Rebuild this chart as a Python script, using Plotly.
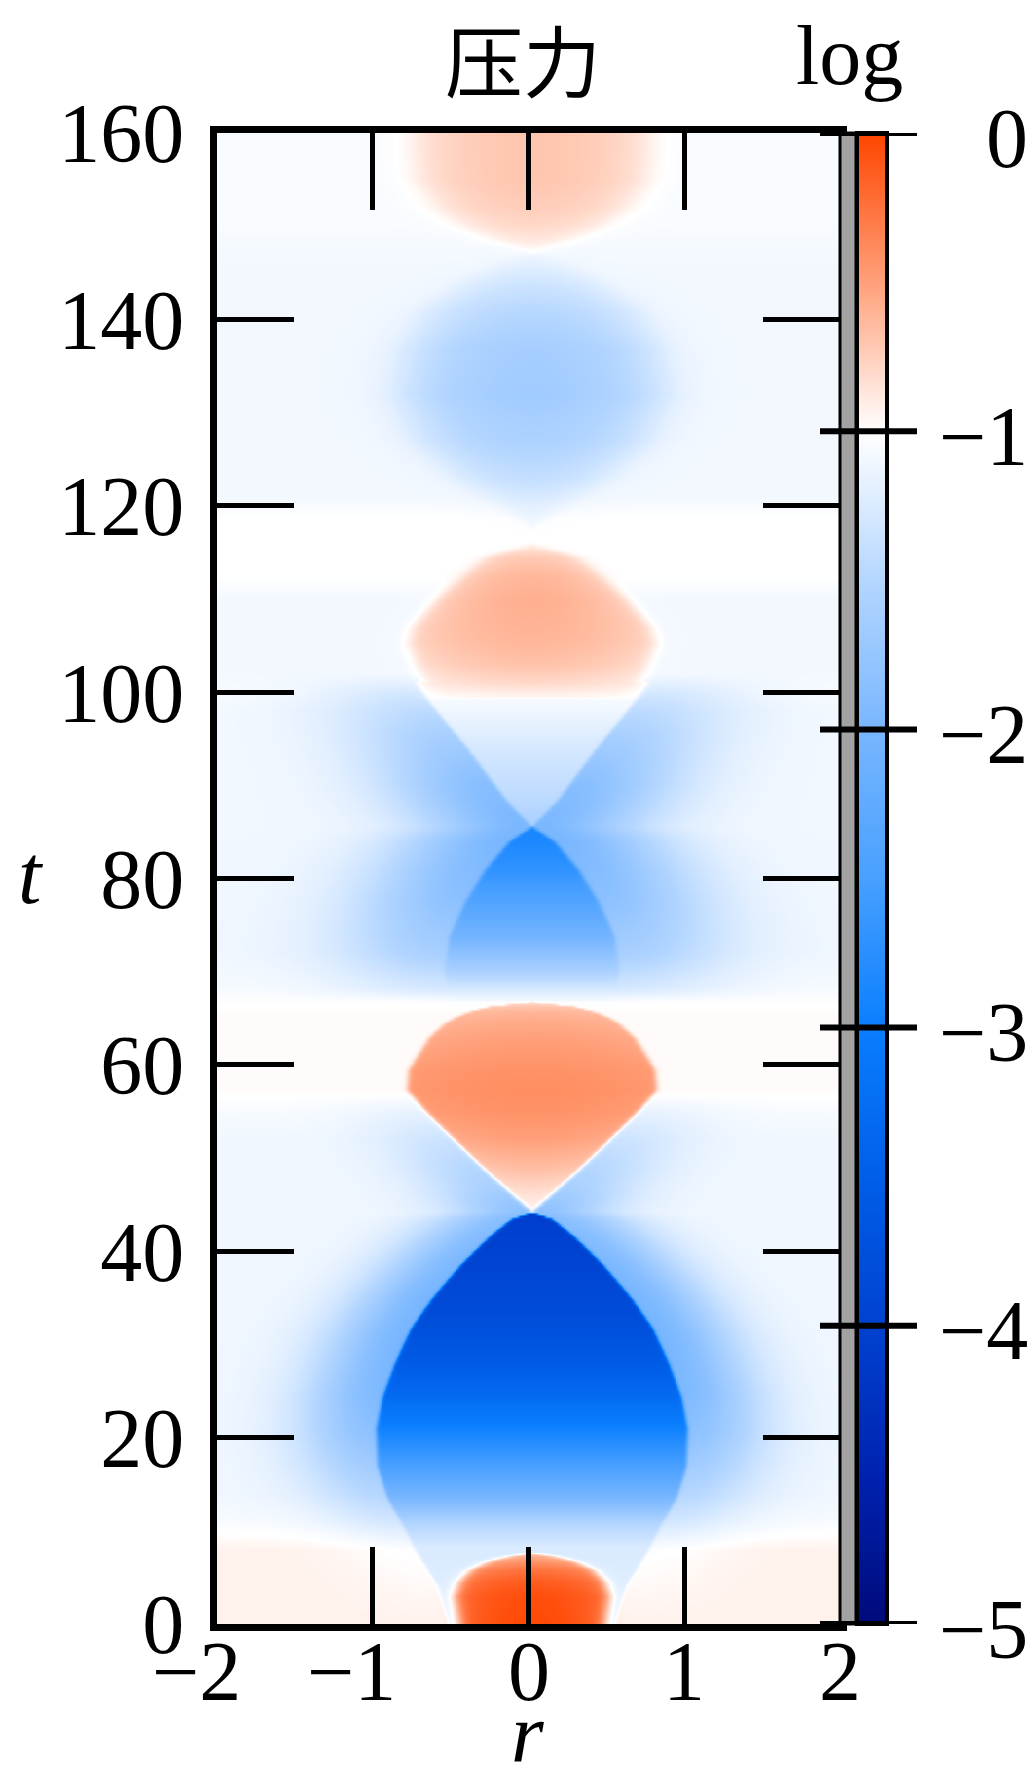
import numpy as np
import plotly.graph_objects as go

# ---------------- axis ticks ----------------
r_ticks = [-2, -1, 0, 1, 2]
r_ticktext = ["\u22122\u2007", "\u22121\u2007", "0", "1", "2"]
t_ticks = [0, 20, 40, 60, 80, 100, 120, 140, 160]
t_ticktext = [str(v) for v in t_ticks]
cbar_ticks = [0, -1, -2, -3, -4, -5]
cbar_ticktext = ["0", "\u22121", "\u22122", "\u22123", "\u22124", "\u22125"]

# ---------------- log-pressure field description ----------------
# far-field level along t
bg_t = [0, 8, 11, 14, 52, 55, 57.5, 65.5, 68.5, 72, 98, 100, 102, 110, 112.5, 118.5, 121, 146, 150, 160]
bg_v = [-0.93, -0.93, -1.05, -1.1, -1.1, -1.05, -0.98, -0.98, -1.06, -1.1,
        -1.08, -1.04, -1.08, -1.08, -1.0, -1.0, -1.08, -1.08, -1.05, -1.05]

# first rarefaction lens (t ~ 0..44)
lens1_t = [0, 4, 8.3, 10.7, 13.6, 17, 21, 24.4, 28, 31.6, 35, 38.7, 41.5, 43.5, 44.2]
lens1_w = [0.53, 0.6, 0.76, 0.83, 0.93, 0.99, 1.0, 0.96, 0.88, 0.78, 0.64, 0.45, 0.28, 0.13, 0.0]
lens1_v = [-1.2, -1.22, -1.25, -1.5, -2.0, -2.5, -2.95, -3.3, -3.55, -3.75, -3.87, -3.96, -4.02, -4.05, -4.05]
lens1_halo_t = [0, 8, 12, 16, 20, 25, 30, 36, 40, 44.2]
lens1_halo = [0.0, -0.08, -0.3, -0.5, -0.7, -0.85, -0.9, -0.9, -0.85, -0.75]

# initial compression at the origin
blob0_t = [0, 3, 4.5, 5.8, 6.8, 7.4, 7.7]
blob0_w = [0.47, 0.5, 0.47, 0.4, 0.28, 0.12, 0.0]
blob0_v = [-0.02, -0.05, -0.12, -0.25, -0.45, -0.6, -0.7]

# second compression (t ~ 44..67)
blob2_t = [44.2, 46, 49, 52, 55, 57.4, 59.5, 63, 64.5, 65.6, 66.3, 66.8]
blob2_w = [0.0, 0.12, 0.32, 0.5, 0.68, 0.8, 0.79, 0.66, 0.56, 0.43, 0.27, 0.0]
blob2_v = [-0.95, -0.85, -0.65, -0.5, -0.42, -0.4, -0.42, -0.5, -0.55, -0.6, -0.68, -0.85]
blob2_halo_t = [44.2, 47, 51, 55, 57]
blob2_halo = [-0.75, -0.5, -0.3, -0.1, 0.0]

# second rarefaction lens (t ~ 67..86)
lens2_t = [66.8, 68, 70.2, 73.8, 77.4, 81, 84, 85.6]
lens2_w = [0.5, 0.54, 0.56, 0.53, 0.43, 0.3, 0.15, 0.0]
lens2_v = [-1.05, -1.25, -1.6, -2.05, -2.4, -2.7, -2.85, -2.9]
lens2_halo_t = [66.8, 68, 72, 78, 84, 85.6]
lens2_halo = [0.0, -0.2, -0.5, -0.75, -0.9, -0.9]

# light cone opening above the second lens
cone_t = [85.6, 88.5, 93.9, 99.4, 101]
cone_w = [0.0, 0.17, 0.41, 0.68, 0.74]
cone_v = [-1.6, -1.45, -1.28, -1.05, -1.0]
cone_halo_t = [85.6, 90, 95, 100, 102]
cone_halo = [-0.9, -0.8, -0.55, -0.25, 0.0]

# third compression (t ~ 100..116)
blob3_t = [99.5, 101, 103, 105.3, 107, 110, 112.5, 114.6, 116]
blob3_w = [0.64, 0.7, 0.75, 0.8, 0.77, 0.62, 0.45, 0.3, 0.0]
blob3_v = [-0.95, -0.8, -0.68, -0.62, -0.6, -0.58, -0.62, -0.72, -0.95]

# third, weak rarefaction (t ~ 118..148)
blob4_t = [117.5, 120, 123, 127, 132, 137, 141, 144, 146.5, 147.5]
blob4_w = [0.0, 0.3, 0.6, 0.85, 0.97, 0.92, 0.78, 0.55, 0.25, 0.0]
blob4_v = [-1.1, -1.2, -1.4, -1.56, -1.66, -1.62, -1.48, -1.32, -1.15, -1.08]

# fourth compression (t ~ 147..160)
blob5_t = [147, 148.5, 150, 152, 155, 158, 160]
blob5_w = [0.0, 0.3, 0.5, 0.66, 0.78, 0.8, 0.8]
blob5_v = [-1.0, -0.88, -0.8, -0.74, -0.7, -0.7, -0.7]

features = [
    dict(t=lens1_t, w=lens1_w, v=lens1_v, halo_t=lens1_halo_t, halo=lens1_halo, spread=0.5, edge=0.012, radial=0.0),
    dict(t=blob2_t, w=blob2_w, v=blob2_v, halo_t=blob2_halo_t, halo=blob2_halo, spread=0.5, edge=0.02, radial=0.1),
    dict(t=lens2_t, w=lens2_w, v=lens2_v, halo_t=lens2_halo_t, halo=lens2_halo, spread=0.7, edge=0.015, radial=0.0),
    dict(t=cone_t, w=cone_w, v=cone_v, halo_t=cone_halo_t, halo=cone_halo, spread=0.7, edge=0.015, radial=0.0),
    dict(t=blob3_t, w=blob3_w, v=blob3_v, halo_t=None, halo=None, spread=0.5, edge=0.06, radial=0.35),
    dict(t=blob4_t, w=blob4_w, v=blob4_v, halo_t=None, halo=None, spread=0.5, edge=0.2, radial=0.7),
    dict(t=blob5_t, w=blob5_w, v=blob5_v, halo_t=None, halo=None, spread=0.5, edge=0.14, radial=0.45),
    dict(t=blob0_t, w=blob0_w, v=blob0_v, halo_t=None, halo=None, spread=0.5, edge=0.05, radial=0.2),
]

r = np.linspace(-2, 2, 321)
t = np.linspace(0, 160, 641)
dist = np.abs(r[None, :] - 0.02)
bg = np.interp(t, bg_t, bg_v)[:, None]
z = np.repeat(bg, r.size, axis=1)

for f in features:
    tk = np.asarray(f["t"], dtype=float)
    rows = ((t >= tk[0]) & (t <= tk[-1]))[:, None]
    w = np.interp(t, tk, f["w"])[:, None]
    vc = np.interp(t, tk, f["v"])[:, None]
    if f["halo"] is not None:
        ht = np.asarray(f["halo_t"], dtype=float)
        amp = np.interp(t, ht, f["halo"])
        amp = np.where((t >= ht[0]) & (t < ht[-1]), amp, 0.0)[:, None]
        gap = np.clip(dist - w, 0, None)
        z = z + amp * np.exp(-(gap / f["spread"]) ** 2)
    frac = np.clip(dist / np.maximum(w, 1e-6), 0, 1)
    inner = bg + (vc - bg) * (1 - f["radial"] * frac ** 2)
    m = 0.5 * (1 - np.tanh((dist - w) / f["edge"]))
    m = np.where(rows, m, 0.0)
    z = z * (1 - m) + inner * m

z = np.round(np.clip(z, -5, 0), 3)

# ---------------- colour map ----------------
cscale = [
    [0.0, "#000a7a"], [0.1, "#0022b0"], [0.2, "#0042d0"], [0.3, "#005ee8"],
    [0.4, "#0a7eff"], [0.5, "#48a0ff"], [0.6, "#78b6ff"], [0.7, "#b4d6ff"],
    [0.8, "#ffffff"], [0.9, "#ffa07a"], [1.0, "#ff4500"],
]
cb_levels = np.linspace(-5, 0, 201)

# ---------------- page geometry (pixels) ----------------
W, H = 1034, 1782
L, R, T, B = 217, 146, 133, 158
PW, PH = W - L - R, H - T - B


def fx(px):
    return (px - L) / PW


def fy(py):
    return (H - B - py) / PH


serif = "Liberation Serif, Times New Roman, serif"
tickfont = dict(family=serif, size=84, color="black")

fig = go.Figure()
fig.add_trace(go.Heatmap(
    x=r, y=t, z=z, colorscale=cscale, zmin=-5, zmax=0,
    showscale=False, zsmooth="best", hoverinfo="skip",
    xaxis="x", yaxis="y",
))
fig.add_trace(go.Heatmap(
    x=[0, 1], y=cb_levels, z=[[v, v] for v in cb_levels],
    colorscale=cscale, zmin=-5, zmax=0, showscale=False,
    zsmooth="best", hoverinfo="skip", xaxis="x2", yaxis="y2",
))

axis_common = dict(
    ticks="inside", ticklen=77, tickwidth=5, tickcolor="black",
    showline=True, linewidth=7, linecolor="black", mirror="allticks",
    showgrid=False, zeroline=False, tickfont=tickfont,
)

shapes = [
    # grey strip between frame and colour bar
    dict(type="rect", xref="paper", yref="paper", x0=fx(840), x1=fx(856), y0=0, y1=1,
         fillcolor="#a2a2a2", line=dict(color="black", width=3), layer="above"),
    # colour bar frame
    dict(type="rect", xref="x2 domain", yref="y2 domain", x0=0, x1=1, y0=0, y1=1,
         line=dict(color="black", width=4), layer="above"),
]
for v in cbar_ticks:
    shapes.append(dict(type="line", xref="paper", yref="y2", x0=fx(820), x1=fx(917), y0=v, y1=v,
                       line=dict(color="black", width=6), layer="above"))

# colour bar labels, right aligned
annotations = [
    dict(text=lbl, x=fx(1030), y=v, xref="paper", yref="y2", xanchor="right", yanchor="middle",
         yshift=-5, showarrow=False, font=tickfont)
    for v, lbl in zip(cbar_ticks, cbar_ticktext)
]
# r-axis tick labels sit close under the frame
annotations += [
    dict(text=lbl, x=v, y=fy(1671), xref="x", yref="paper", xanchor="center", yanchor="middle",
         showarrow=False, font=tickfont)
    for v, lbl in zip(r_ticks, r_ticktext)
]
annotations += [
    dict(text="压力", x=fx(523), y=fy(0), xref="paper", yref="paper", xanchor="center", yanchor="top",
         showarrow=False, font=dict(family="Noto Sans CJK SC", size=78, color="black")),
    dict(text="log", x=fx(849), y=fy(55), xref="paper", yref="paper", xanchor="center", yanchor="middle",
         showarrow=False, font=tickfont),
    dict(text="<i>t</i>", x=fx(31), y=fy(874), xref="paper", yref="paper", xanchor="center", yanchor="middle",
         showarrow=False, font=tickfont),
    dict(text="<i>r</i>", x=fx(527), y=fy(1782), xref="paper", yref="paper", xanchor="center", yanchor="bottom",
         showarrow=False, font=tickfont),
]

fig.update_layout(
    width=W, height=H,
    margin=dict(l=L, r=R, t=T, b=B, pad=0),
    paper_bgcolor="white", plot_bgcolor="white",
    showlegend=False,
    xaxis=dict(domain=[0, fx(840)], range=[-2, 2], tickvals=r_ticks, showticklabels=False,
               anchor="y", **axis_common),
    yaxis=dict(domain=[0, 1], range=[0, 160], tickvals=t_ticks, ticktext=t_ticktext,
               ticklabelstandoff=9, anchor="x", **axis_common),
    xaxis2=dict(domain=[fx(857), fx(887)], range=[0, 1], visible=False, anchor="y2", fixedrange=True),
    yaxis2=dict(domain=[0, 1], range=[-5, 0], visible=False, anchor="x2", fixedrange=True),
    shapes=shapes,
    annotations=annotations,
)

fig.write_html("out.html")
